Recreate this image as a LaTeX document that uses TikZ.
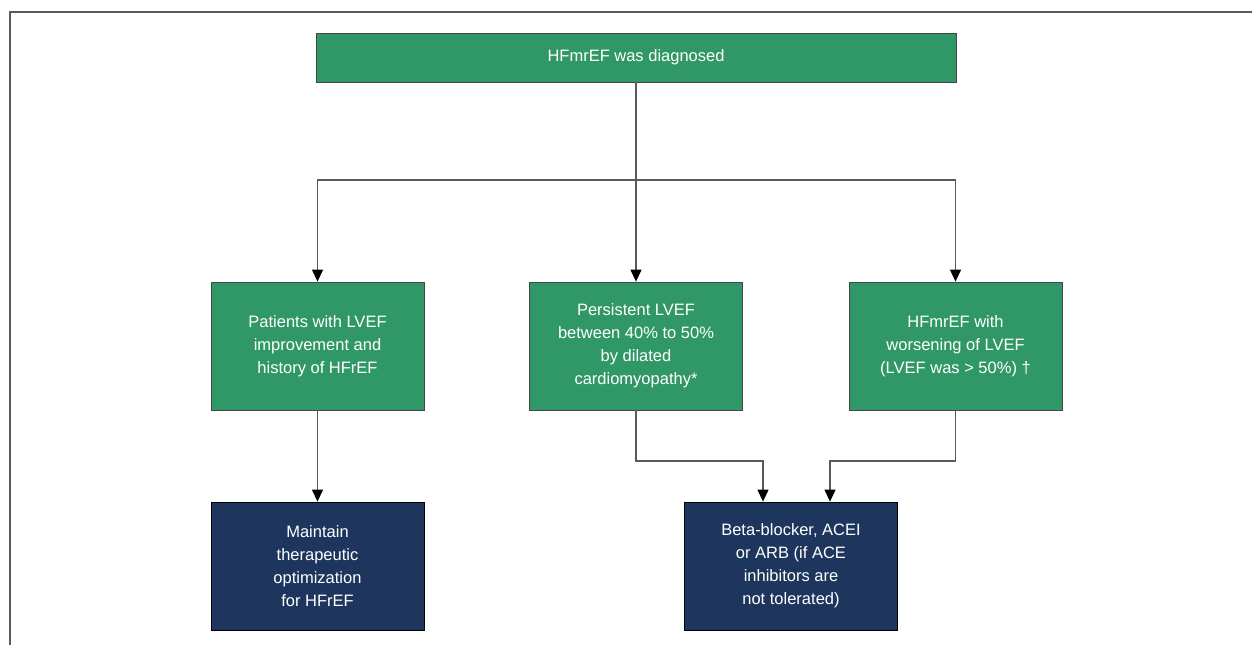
\documentclass[tikz,border=0pt]{standalone}
\usepackage{fontspec}
\setmainfont{Liberation Sans}
\usetikzlibrary{arrows.meta}
\definecolor{boxgreen}{RGB}{48,152,102}
\definecolor{boxnavy}{RGB}{30,54,94}
\definecolor{edgegray}{RGB}{70,70,70}
\definecolor{linegray}{RGB}{90,90,90}
\begin{document}
\begin{tikzpicture}[x=1pt,y=-1pt,
  greenbox/.style={draw=edgegray,line width=0.8pt,fill=boxgreen,text=white,minimum width=213pt,minimum height=128pt,align=center,font=\fontsize{16.5}{23}\selectfont,inner sep=0pt},
  navybox/.style={draw=black,line width=0.8pt,fill=boxnavy,text=white,minimum width=213pt,minimum height=128pt,align=center,font=\fontsize{16.5}{23}\selectfont,inner sep=0pt},
  conn/.style={draw=linegray,line width=1.2pt,-{Triangle[length=12pt,width=11pt,fill=black,color=black]}},
  plain/.style={draw=linegray,line width=1.2pt}]
\useasboundingbox (0,0) rectangle (1252,645);
\draw[draw=linegray,line width=1.5pt] (10,645) -- (10,12) -- (1252,12);
\node[greenbox,minimum width=640pt,minimum height=49pt] (top) at (636,57.5) {HFmrEF was diagnosed};
\node[greenbox] (left) at (317.5,346) {Patients with LVEF\\improvement and\\history of HFrEF};
\node[greenbox] (mid) at (636,346) {Persistent LVEF\\between 40\% to 50\%\\by dilated\\cardiomyopathy*};
\node[greenbox] (right) at (955.5,346) {HFmrEF with\\worsening of LVEF\\(LVEF was > 50\%) †};
\node[navybox] (bl) at (317.5,566) {Maintain\\therapeutic\\optimization\\for HFrEF};
\node[navybox] (br) at (791,566) {Beta-blocker, ACEI\\or ARB (if ACE\\inhibitors are\\not tolerated)};
\coordinate (split) at (636,180);
\coordinate (jm) at (636,461);
\coordinate (jr) at (955.5,461);
\draw[plain] (top.south) -- (split);
\draw[conn] (split) -| (left.north);
\draw[conn] (split) -- (mid.north);
\draw[conn] (split) -| (right.north);
\draw[conn] (left.south) -- (bl.north);
\draw[conn] (mid.south) -- (jm) -| ([xshift=-28pt]br.north);
\draw[conn] (right.south) -- (jr) -| ([xshift=39pt]br.north);
\end{tikzpicture}
\end{document}
